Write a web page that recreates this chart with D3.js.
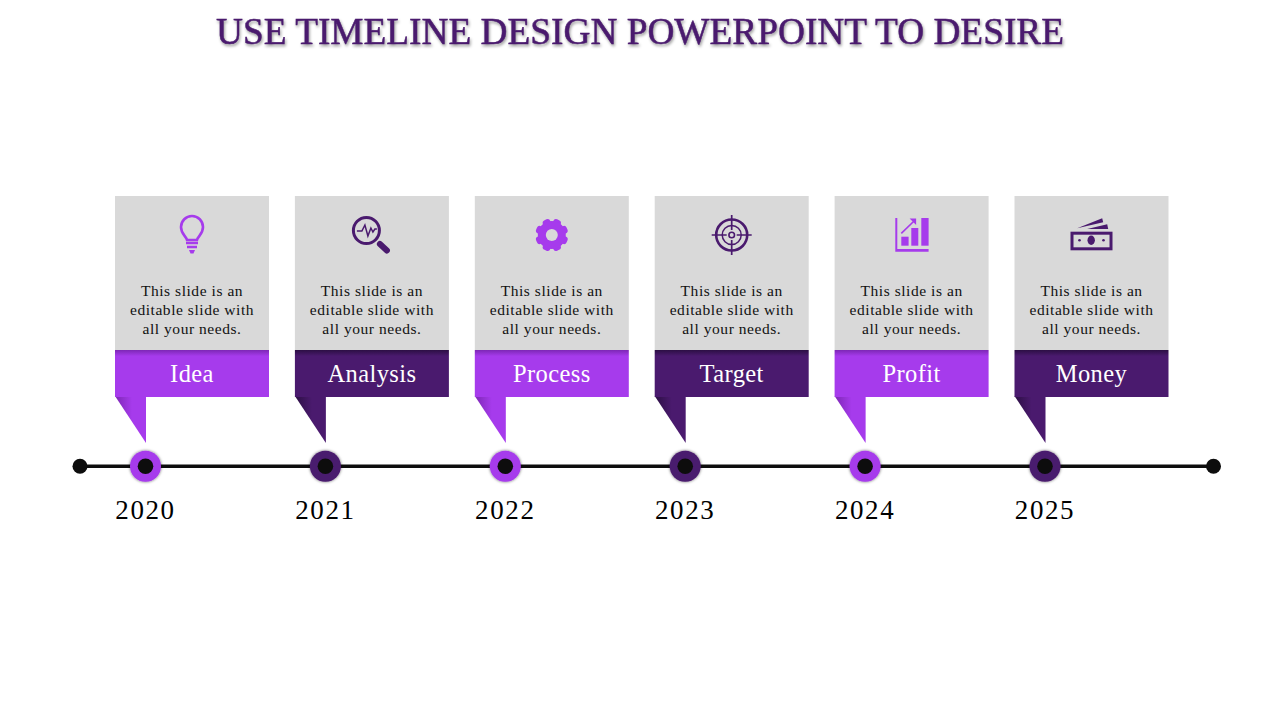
<!DOCTYPE html>
<html>
<head>
<meta charset="utf-8">
<script src="https://cdn.jsdelivr.net/npm/d3@7"></script>
<style>
  html, body { margin: 0; padding: 0; background: #fff; }
  text { font-family: "Liberation Serif", serif; }
</style>
</head>
<body>
<div id="chart"></div>
<script>
// Chart content
const titleText = "USE TIMELINE DESIGN POWERPOINT TO DESIRE";
const years = [2020, 2021, 2022, 2023, 2024, 2025];
const labels = ["Idea", "Analysis", "Process", "Target", "Profit", "Money"];
const tones = ["light", "dark", "light", "dark", "light", "dark"];
const icons = ["bulb", "search", "gear", "target", "bars", "money"];
const descLines = ["This slide is an", "editable slide with", "all your needs."];

// Colors
const colors = { light: "#a63bec", dark: "#4a1a6e", lightTop: "#7d27b5", darkTop: "#2c0f44" };
const gray = "#d9d9d9";
const ink = "#0d0d0d";

const width = 1280,
  height = 720;
const lineY = 466.3;
const cardW = 154,
  cardLeft = -30.5,
  cardTop = 196,
  bandTop = 350,
  bandBottom = 397,
  tailBottom = 443;

// Start SVG
let svg = d3
  .select("#chart")
  .append("svg")
  .attr("width", width)
  .attr("height", height)
  .style("display", "block");

let defs = svg.append("defs");

// Band and tail shading
["light", "dark"].forEach(function (tone) {
  let band = defs
    .append("linearGradient")
    .attr("id", "band-" + tone)
    .attr("x1", 0).attr("y1", 0).attr("x2", 0).attr("y2", 1);
  band.append("stop").attr("offset", 0).attr("stop-color", colors[tone + "Top"]);
  band.append("stop").attr("offset", 0.13).attr("stop-color", colors[tone]);

  let tail = defs
    .append("linearGradient")
    .attr("id", "tail-" + tone)
    .attr("x1", 0).attr("y1", 0).attr("x2", 0.55).attr("y2", 0);
  tail.append("stop").attr("offset", 0).attr("stop-color", colors[tone + "Top"]);
  tail.append("stop").attr("offset", 1).attr("stop-color", colors[tone]);
});

let glow = defs
  .append("filter")
  .attr("id", "glow")
  .attr("x", "-30%").attr("y", "-30%").attr("width", "160%").attr("height", "160%");
glow
  .append("feDropShadow")
  .attr("dx", 0).attr("dy", 0)
  .attr("stdDeviation", 1.6)
  .attr("flood-color", "#000")
  .attr("flood-opacity", 0.6);

// Scale: years onto the timeline
let x = d3.scaleLinear().domain([2020, 2025]).range([145.5, 1045]);

// Title
svg
  .append("text")
  .attr("x", 640)
  .attr("y", 44)
  .attr("text-anchor", "middle")
  .attr("fill", colors.dark)
  .attr("stroke", colors.dark)
  .attr("stroke-width", 0.5)
  .attr("font-size", 38.5)
  .attr("textLength", 848)
  .attr("lengthAdjust", "spacingAndGlyphs")
  .style("filter", "drop-shadow(1.5px 2px 1.5px rgba(0,0,0,0.4))")
  .text(titleText);

// Timeline
svg
  .append("line")
  .attr("x1", 80)
  .attr("x2", 1213)
  .attr("y1", lineY)
  .attr("y2", lineY)
  .attr("stroke", ink)
  .attr("stroke-width", 3.5);

svg
  .selectAll(".end")
  .data([80, 1213.5])
  .join("circle")
  .attr("class", "end")
  .attr("cx", (d) => d)
  .attr("cy", lineY)
  .attr("r", 7.5)
  .attr("fill", ink);

// One group per year
let card = svg
  .selectAll(".card")
  .data(years)
  .join("g")
  .attr("class", "card")
  .attr("transform", (d) => "translate(" + x(d) + ",0)");

// Gray box
card
  .append("rect")
  .attr("x", cardLeft)
  .attr("y", cardTop)
  .attr("width", cardW)
  .attr("height", bandTop - cardTop)
  .attr("fill", gray);

// Tail
card
  .append("path")
  .attr("d", "M" + cardLeft + "," + (bandBottom - 1) + "H0.5V" + tailBottom + "Z")
  .attr("fill", (d, i) => "url(#tail-" + tones[i] + ")");

// Colored band
card
  .append("rect")
  .attr("x", cardLeft)
  .attr("y", bandTop)
  .attr("width", cardW)
  .attr("height", bandBottom - bandTop)
  .attr("fill", (d, i) => "url(#band-" + tones[i] + ")");

card
  .append("text")
  .attr("x", cardLeft + cardW / 2)
  .attr("y", 382)
  .attr("text-anchor", "middle")
  .attr("fill", "#fff")
  .attr("font-size", 24.5)
  .attr("letter-spacing", 0.4)
  .text((d, i) => labels[i]);

// Description
card.each(function () {
  d3.select(this)
    .selectAll(".desc")
    .data(descLines)
    .join("text")
    .attr("class", "desc")
    .attr("x", cardLeft + cardW / 2)
    .attr("y", (d, i) => 296 + i * 19)
    .attr("text-anchor", "middle")
    .attr("fill", "#111")
    .attr("font-size", 15.5)
    .attr("letter-spacing", 0.55)
    .text((d) => d);
});

// Markers
card
  .append("circle")
  .attr("cy", lineY)
  .attr("r", 15.5)
  .attr("fill", (d, i) => colors[tones[i]])
  .attr("filter", "url(#glow)");
card
  .append("circle")
  .attr("cy", lineY)
  .attr("r", 7.8)
  .attr("fill", ink);

// Year labels
card
  .append("text")
  .attr("y", 519)
  .attr("text-anchor", "middle")
  .attr("fill", "#000")
  .attr("font-size", 27)
  .attr("letter-spacing", 1.6)
  .text((d) => d);

// Icons, drawn around the middle of the gray box
const iconDraw = {
  bulb(g, c) {
    g.append("path")
      .attr("d", "M-5,5 C-6,1 -11,-1 -11,-8 A11,11 0 1 1 11,-8 C11,-1 6,1 5,5 Z")
      .attr("fill", "none").attr("stroke", c).attr("stroke-width", 2.6);
    g.append("path").attr("d", "M-6,8H6M-5,12H5").attr("stroke", c).attr("stroke-width", 2.4);
    g.append("path").attr("d", "M-3,15H3L1.5,18.5H-1.5Z").attr("fill", c);
  },
  search(g, c) {
    g.append("circle").attr("cx", -5.5).attr("cy", -4.5).attr("r", 13)
      .attr("fill", "none").attr("stroke", c).attr("stroke-width", 3);
    g.append("path").attr("d", "M8,9L15,15.5").attr("stroke", c).attr("stroke-width", 6).attr("stroke-linecap", "round");
    g.append("path")
      .attr("d", "M-15,-4H-10L-7,-10L-4,1L-1,-7L1,-3L3,-6H5")
      .attr("fill", "none").attr("stroke", c).attr("stroke-width", 1.5);
  },
  gear(g, c) {
    g.selectAll(".tooth")
      .data(d3.range(8))
      .join("rect")
      .attr("x", -4).attr("y", -16.5).attr("width", 8).attr("height", 8).attr("rx", 3)
      .attr("transform", (d) => "rotate(" + (d * 45 + 22.5) + ")")
      .attr("fill", c);
    g.append("circle").attr("r", 14).attr("fill", c);
    g.append("circle").attr("r", 6).attr("fill", gray);
  },
  target(g, c) {
    g.append("circle").attr("r", 15.5).attr("fill", "none").attr("stroke", c).attr("stroke-width", 2.6);
    g.append("circle").attr("r", 9.5).attr("fill", "none").attr("stroke", c).attr("stroke-width", 1.5);
    g.append("circle").attr("r", 2.8).attr("fill", "none").attr("stroke", c).attr("stroke-width", 1.6);
    g.append("path").attr("d", "M-20,0H-5M5,0H20M0,-20V-5M0,5V20").attr("stroke", c).attr("stroke-width", 1.7);
  },
  bars(g, c) {
    g.append("path").attr("d", "M-16.3,-17H-14.3V14H17V16.7H-16.3Z").attr("fill", c);
    g.append("rect").attr("x", -10.3).attr("y", 1.7).attr("width", 7.3).attr("height", 9).attr("fill", c);
    g.append("rect").attr("x", -0.3).attr("y", -7).attr("width", 7).attr("height", 17.7).attr("fill", c);
    g.append("rect").attr("x", 9.7).attr("y", -17).attr("width", 7.3).attr("height", 27.7).attr("fill", c);
    g.append("path").attr("d", "M-10.3,-1.7L3,-14.5").attr("stroke", c).attr("stroke-width", 1.6);
    g.append("path").attr("d", "M-2,-16.5H4.5V-10Z").attr("fill", c);
  },
  money(g, c) {
    g.append("rect").attr("x", -19.5).attr("y", -1.8).attr("width", 39).attr("height", 15.6)
      .attr("fill", "none").attr("stroke", c).attr("stroke-width", 3);
    g.append("ellipse").attr("cx", -0.3).attr("cy", 5.3).attr("rx", 3.7).attr("ry", 4.7).attr("fill", c);
    g.append("circle").attr("cx", -12).attr("cy", 5.3).attr("r", 1.3).attr("fill", c);
    g.append("circle").attr("cx", 12).attr("cy", 5.3).attr("r", 1.3).attr("fill", c);
    g.append("path").attr("d", "M-14.3,-6.7L10.7,-16.7L11.7,-12.7Z").attr("fill", c);
    g.append("path").attr("d", "M-4.3,-6L15.7,-10.7L16.7,-6Z").attr("fill", c);
  },
};

card.each(function (d, i) {
  let g = d3
    .select(this)
    .append("g")
    .attr("transform", "translate(" + (cardLeft + cardW / 2) + ",235)");
  iconDraw[icons[i]](g, colors[tones[i]]);
});
</script>
</body>
</html>
